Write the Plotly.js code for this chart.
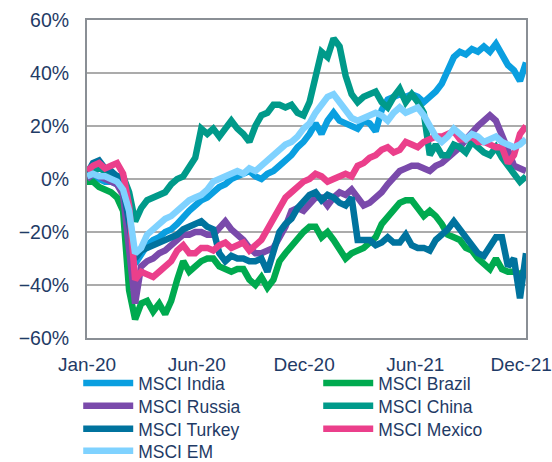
<!DOCTYPE html>
<html>
<head>
<meta charset="utf-8">
<script src="https://cdn.plot.ly/plotly-3.0.1.min.js"></script>
<style>html,body{margin:0;padding:0;background:#fff;}#chart{width:552px;height:462px;}</style>
</head>
<body>
<div id="chart"></div>
<script>
// Sample index (roughly every ~1.5 weeks from Jan-2020 to Dec-2021)
const tickPositions = [0, 18.25, 36.1, 54.6, 72.2];
const tickLabels = ["Jan-20", "Jun-20", "Dec-20", "Jun-21", "Dec-21"];

const seriesNames = ["MSCI India", "MSCI Brazil", "MSCI Russia", "MSCI China", "MSCI Turkey", "MSCI Mexico", "MSCI EM"];
const seriesColors = ["#0a9fe0", "#00aa4f", "#7a4aab", "#009a8a", "#00739e", "#eb3f8b", "#7fd2ff"];

const india = [0,1,0,-1,-1,-2,-5,-15,-32,-28,-25,-23,-22,-20,-19,-17,-14,-12,-10,-8,-7,-5,-3,-2,0,
  1,2,3,1,0,2,3,5,7,9,12,14,17,21,17,22,25,22,21,20,19,22,21,18,26,30,31,32,31,32,31,29,31,33,36,41,46,48,47,49,48,50,48,51,47,43,41,37,44];
const brazil = [-1,-1,-3,-4,-5,-7,-12,-42,-53,-47,-46,-50,-47,-51,-46,-38,-31,-35,-33,-31,-30,-30,-33,-34,-35,
  -34,-34,-38,-40,-37,-41,-38,-31,-28,-25,-22,-20,-18,-18,-22,-20,-23,-27,-30,-28,-27,-26,-24,-22,-17,-14,-12,-9,-8,-8,-11,-14,-12,-14,-17,-21,-22,-23,-26,-27,-30,-32,-34,-30,-34,-35,-35,-36,-34];
const russia = [0,2,1,0,-1,-2,-6,-25,-47,-33,-31,-30,-28,-27,-25,-23,-21,-21,-20,-20,-21,-21,-18,-16,-19,
  -21,-23,-26,-28,-28,-27,-26,-22,-18,-12,-11,-12,-9,-7,-7,-10,-7,-5,-6,-4,-7,-10,-9,-7,-5,-2,1,3,4,5,5,4,3,5,6,8,10,12,15,18,20,22,24,22,17,11,5,4,3];
const china = [1,3,4,3,2,1,1,-5,-16,-11,-8,-7,-6,-5,-2,0,1,4,8,19,17,19,16,19,22,
  19,17,14,20,24,25,28,28,27,28,25,24,29,40,48,46,53,50,39,32,29,31,32,33,29,27,31,34,29,32,29,25,9,13,9,9,13,12,10,14,12,10,9,12,8,5,2,-1,1];
const turkey = [2,6,7,4,3,1,-3,-15,-30,-27,-26,-25,-24,-23,-22,-21,-19,-18,-17,-16,-18,-19,-28,-31,-29,
  -30,-30,-31,-31,-30,-35,-27,-20,-17,-15,-11,-8,-6,-5,-8,-6,-7,-9,-10,-7,-23,-23,-23,-25,-24,-22,-24,-24,-21,-25,-26,-26,-27,-23,-21,-19,-16,-19,-22,-26,-28,-29,-26,-22,-22,-33,-30,-45,-28];
const mexico = [3,5,6,4,5,6,2,-10,-38,-35,-36,-37,-35,-33,-31,-27,-25,-28,-28,-26,-26,-27,-25,-24,-26,
  -25,-24,-27,-25,-23,-19,-15,-10,-7,-5,-3,-1,0,2,1,-1,0,1,2,1,5,6,8,9,11,12,10,11,14,13,12,14,15,16,16,17,18,15,15,16,14,14,13,12,12,6,9,17,20];
const em = [1,2,1,1,0,-1,-4,-12,-28,-26,-21,-19,-17,-15,-14,-12,-10,-8,-7,-6,-4,-1,0,1,2,
  3,2,4,3,5,7,9,11,13,14,16,19,21,25,28,31,32,29,25,23,22,23,24,25,24,22,25,27,25,26,27,24,20,16,14,16,19,17,15,17,16,14,15,16,14,13,12,13,15];

const allSeries = [india, brazil, russia, china, turkey, mexico, em];
// legend rows: (India, Brazil), (Russia, China), (Turkey, Mexico), (EM)
const legendFor = ["legend", "legend", "legend2", "legend2", "legend3", "legend3", "legend4"];

const textColor = "#1f3b66";
const fontFamily = "'Liberation Sans', Arial, sans-serif";

const traces = allSeries.map((vals, k) => ({
  type: "scatter",
  mode: "lines",
  name: seriesNames[k],
  x: vals.map((_, i) => i),
  y: vals,
  line: { color: seriesColors[k], width: 6.5, shape: "linear" },
  legend: legendFor[k],
  hoverinfo: "skip"
}));

const legendCommon = {
  orientation: "h",
  yanchor: "top",
  xanchor: "left",
  x: -0.02,
  bgcolor: "rgba(0,0,0,0)",
  font: { family: fontFamily, size: 17.5, color: textColor },
  itemwidth: 50,
  entrywidth: 175,
  entrywidthmode: "pixels",
  tracegroupgap: 0,
  traceorder: "normal"
};

const layout = {
  width: 552,
  height: 462,
  margin: { l: 87, r: 26, t: 20, b: 124, autoexpand: false },
  paper_bgcolor: "#ffffff",
  plot_bgcolor: "#ffffff",
  showlegend: true,
  font: { family: fontFamily, size: 19, color: textColor },
  xaxis: {
    range: [0, 73],
    tickvals: tickPositions,
    ticktext: tickLabels,
    showgrid: false,
    zeroline: false,
    showline: true,
    mirror: true,
    linecolor: "#8a8f95",
    linewidth: 2,
    ticks: "",
    ticklabelstandoff: 8,
    tickfont: { family: fontFamily, size: 19, color: textColor }
  },
  yaxis: {
    range: [-60, 60],
    dtick: 20,
    tick0: 0,
    ticksuffix: "%",
    showgrid: true,
    gridcolor: "#ababab",
    gridwidth: 1.5,
    zeroline: false,
    showline: true,
    mirror: true,
    linecolor: "#8a8f95",
    linewidth: 2,
    ticks: "",
    ticklabelstandoff: 12,
    tickfont: { family: fontFamily, size: 19.5, color: textColor }
  },
  legend: Object.assign({}, legendCommon, { y: -0.085 }),
  legend2: Object.assign({}, legendCommon, { y: -0.157 }),
  legend3: Object.assign({}, legendCommon, { y: -0.2295 }),
  legend4: Object.assign({}, legendCommon, { y: -0.2985 })
};

Plotly.newPlot("chart", traces, layout, { staticPlot: true, displayModeBar: false });
</script>
</body>
</html>
